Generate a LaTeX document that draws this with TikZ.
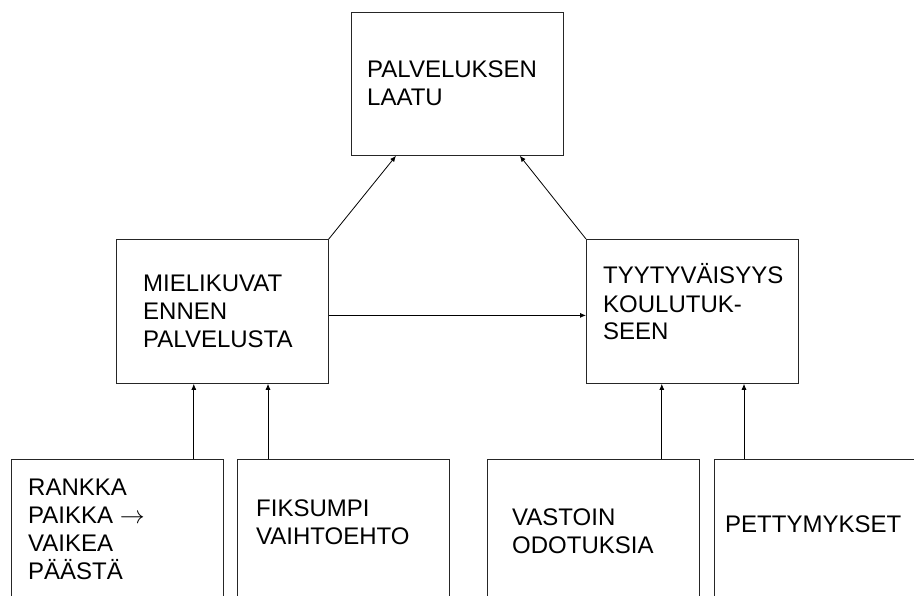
\documentclass[tikz,border=0pt]{standalone}
\usepackage{fontspec}
\setmainfont{Liberation Sans}
\usetikzlibrary{arrows.meta}
\tikzset{
  box/.style={draw=black!85, line width=0.8pt, minimum width=212pt, inner sep=0pt},
  txt/.style={align=left, inner sep=0pt, anchor=base west, font=\fontsize{24}{28}\selectfont},
  fleche/.style={draw=black, line width=0.8pt, -{Latex[length=6pt,width=5pt]}}
}
\begin{document}
\begin{tikzpicture}[x=1pt, y=-1pt]
\useasboundingbox (0,0) rectangle (914,596);
\clip (0,0) rectangle (914,596);
% box Laatu
\node[box, minimum height=143pt, anchor=north west] (laatu) at (351,12) {};
\node[txt] (laatuT) at ([xshift=16pt, yshift=-94pt]laatu.north west) {PALVELUKSEN\\LAATU};
% box Mielikuvat
\node[box, minimum height=144pt, anchor=north west] (mieli) at (116,239) {};
\node[txt] (mieliT) at ([xshift=27pt, yshift=-109pt]mieli.north west) {MIELIKUVAT\\ENNEN\\PALVELUSTA};
% box Tyytyvaisyys
\node[box, minimum height=144pt, anchor=north west] (tyyt) at (586,239) {};
\node[txt] (tyytT) at ([xshift=17pt, yshift=-101pt]tyyt.north west) {TYYTYVÄISYYS\\KOULUTUK-\\SEEN};
% bottom boxes (cut by the page)
\node[box, minimum height=160pt, anchor=north west] (rankka) at (11,459) {};
\node[txt] (rankkaT) at ([xshift=17pt, yshift=-120pt]rankka.north west) {RANKKA\\PAIKKA $\rightarrow$\\VAIKEA\\PÄÄSTÄ};
\node[box, minimum height=160pt, anchor=north west] (fiksu) at (237,459) {};
\node[txt] (fiksuT) at ([xshift=19pt, yshift=-85pt]fiksu.north west) {FIKSUMPI\\VAIHTOEHTO};
\node[box, minimum height=160pt, anchor=north west] (vasto) at (487,459) {};
\node[txt] (vastoT) at ([xshift=25pt, yshift=-94pt]vasto.north west) {VASTOIN\\ODOTUKSIA};
\node[box, minimum height=160pt, anchor=north west] (petty) at (714,459) {};
\node[txt] (pettyT) at ([xshift=11pt, yshift=-73pt]petty.north west) {PETTYMYKSET};
% arrows
\coordinate (r1) at ([xshift=-30pt]rankka.north east);
\coordinate (f1) at ([xshift=31pt]fiksu.north west);
\coordinate (v1) at ([xshift=-38pt]vasto.north east);
\coordinate (p1) at ([xshift=30pt]petty.north west);
\draw[fleche] (r1) -- (r1 |- mieli.south);
\draw[fleche] (f1) -- (f1 |- mieli.south);
\draw[fleche] (v1) -- (v1 |- tyyt.south);
\draw[fleche] (p1) -- (p1 |- tyyt.south);
\draw[fleche] ([yshift=-4pt]mieli.east) -- ([yshift=-4pt]tyyt.west);
\draw[fleche] (mieli.north east) -- ([xshift=45pt]laatu.south west);
\draw[fleche] (tyyt.north west) -- ([xshift=-44pt]laatu.south east);
\end{tikzpicture}
\end{document}
